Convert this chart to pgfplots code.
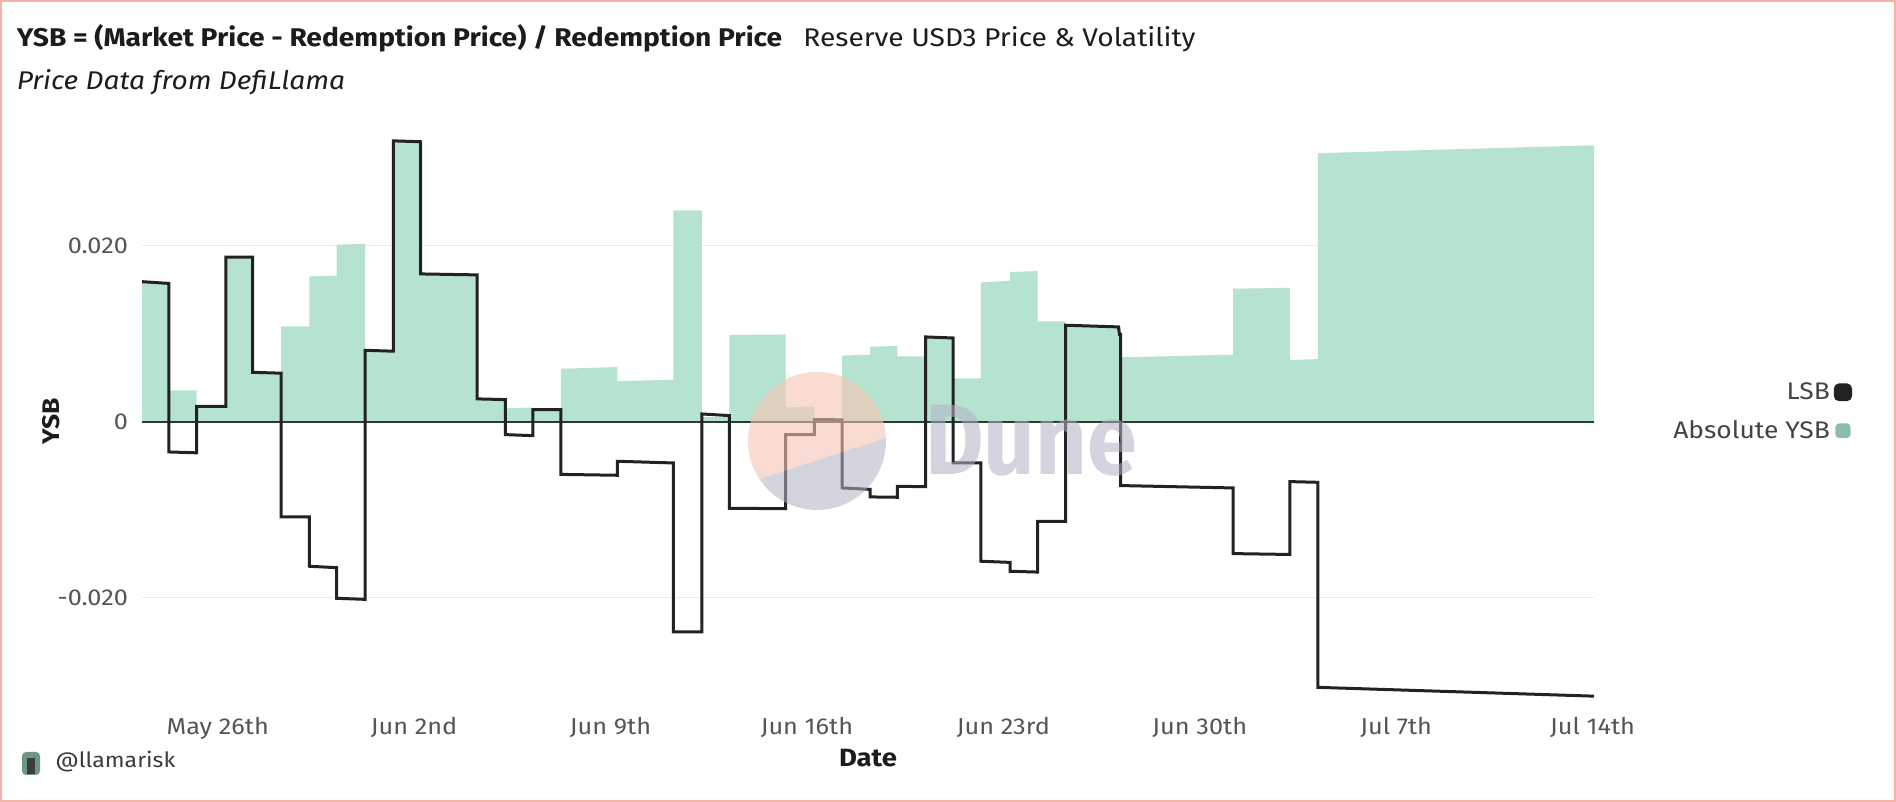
\documentclass[border=0pt]{standalone}
\usepackage{fontspec}
\setmainfont{Fira Sans}[FakeStretch=1.1]
\newfontfamily\dunefont{Fira Sans}[FakeStretch=0.9]
\usepackage{pgfplots}
\pgfplotsset{compat=1.18}
\definecolor{areagreen}{RGB}{182,226,208}
\definecolor{leggreen}{RGB}{138,190,168}
\definecolor{lsbcol}{RGB}{34,34,34}
\definecolor{zerocol}{RGB}{40,60,52}
\definecolor{gridgray}{RGB}{236,236,236}
\definecolor{tickgray}{RGB}{85,85,85}
\definecolor{titlecol}{RGB}{28,28,28}
\definecolor{bordercol}{RGB}{245,180,165}
\definecolor{wmsalmon}{RGB}{248,196,180}
\definecolor{wmgray}{RGB}{180,178,196}
\definecolor{avgreen}{RGB}{110,150,130}
\definecolor{avdark}{RGB}{60,60,60}
\begin{document}
\begin{tikzpicture}
\path[use as bounding box] (0,0) rectangle (948pt,401pt);
\fill[white] (0,0) rectangle (948pt,401pt);
\node[anchor=base west, inner sep=0pt, text=titlecol, font=\fontsize{12.8}{15}\selectfont\bfseries] at (8.2pt,377.6pt) {YSB = (Market Price - Redemption Price) / Redemption Price};
\node[anchor=base west, inner sep=0pt, text=titlecol, font=\fontsize{12.8}{15}\selectfont] at (401.5pt,377.6pt) {Reserve USD3 Price \& Volatility};
\node[anchor=base west, inner sep=0pt, text=titlecol, font=\fontsize{12.8}{15}\selectfont\itshape] at (8.2pt,356.3pt) {Price Data from DefiLlama};
\begin{axis}[
  at={(71pt,45pt)}, anchor=south west, scale only axis,
  width=726pt, height=292.6pt,
  xmin=-2.70, xmax=49.05, ymin=-0.033, ymax=0.0335,
  axis line style={draw=none}, major tick length=0pt,
  scaled y ticks=false,
  ymajorgrids, major grid style={color=gridgray, line width=0.7pt},
  xtick={0,7,14,21,28,35,42,49},
  xticklabels={May 26th,Jun 2nd,Jun 9th,Jun 16th,Jun 23rd,Jun 30th,Jul 7th,Jul 14th},
  ytick={-0.02,0,0.02}, yticklabels={-0.020,0,0.020},
  ticklabel style={font=\fontsize{11.5}{13}\selectfont, text=tickgray},
  yticklabel style={xshift=-3.5pt},
  xticklabel style={yshift=1pt},
  /pgf/number format/assume math mode=true,
  clip=false,
  legend plot pos=right, reverse legend, legend cell align=right,
  legend style={at={(1.178,0.513)}, anchor=east, draw=none, fill=none,
    font=\fontsize{12}{14}\selectfont, text=tickgray!80!black, row sep=5pt, inner sep=0pt},
]
\addplot[fill=areagreen, draw=none, sharp plot,
  legend image code/.code={\fill[leggreen, rounded corners=2pt] (0pt,-3.7pt) rectangle (7.6pt,3.7pt);}]
coordinates {
(-2.70,0) (-2.70,0.0159) (-1.74,0.0157)
(-1.74,0.00356) (-0.75,0.00356)
(-0.75,0.00174) (0.285,0.00174)
(0.285,0.0187) (1.247,0.0187)
(1.247,0.0056) (2.256,0.0055)
(2.256,0.01083) (3.264,0.01083)
(3.264,0.0165) (4.24,0.0166)
(4.24,0.0201) (5.25,0.0202)
(5.25,0.0081) (6.26,0.0080)
(6.26,0.0319) (7.23,0.0318)
(7.23,0.01678) (9.24,0.01667)
(9.24,0.00258) (10.25,0.0025)
(10.25,0.0015) (11.23,0.0016)
(11.23,0.0012) (12.23,0.0012)
(12.23,0.0060) (14.24,0.0062)
(14.24,0.0046) (16.24,0.00475)
(16.24,0.0240) (17.25,0.0240)
(17.25,0.0005) (18.23,0.0005)
(18.23,0.00985) (20.24,0.0099)
(20.24,0.0016) (21.26,0.0017)
(21.26,0.0002) (22.25,0.0002)
(22.25,0.0075) (23.25,0.0076)
(23.25,0.0085) (24.22,0.0086)
(24.22,0.0074) (25.23,0.0074)
(25.23,0.0096) (26.21,0.0096)
(26.21,0.0049) (27.2,0.0049)
(27.2,0.0158) (28.24,0.0160)
(28.24,0.0170) (29.22,0.0171)
(29.22,0.0114) (30.22,0.0114)
(30.22,0.0109) (32.18,0.0108)
(32.18,0.0073) (36.19,0.0076)
(36.19,0.0151) (38.21,0.0152)
(38.21,0.0070) (39.21,0.0071)
(39.21,0.0305) (49.05,0.0314) (49.05,0)
} \closedcycle;
\addlegendentry{Absolute YSB}
\draw[zerocol, line width=1pt] (axis cs:-2.70,0) -- (axis cs:49.05,0);
\addplot[lsbcol, line width=1.5pt, sharp plot, line join=miter,
  legend image code/.code={\fill[lsbcol, rounded corners=2pt] (0pt,-3.7pt) rectangle (7.6pt,3.7pt);}]
coordinates {
(-2.70,0.0159) (-1.74,0.0157)
(-1.74,-0.00345) (-0.75,-0.00355)
(-0.75,0.00174) (0.285,0.00174)
(0.285,0.0187) (1.247,0.0187)
(1.247,0.0056) (2.256,0.0055)
(2.256,-0.01083) (3.264,-0.01083)
(3.264,-0.01644) (4.24,-0.0166)
(4.24,-0.02008) (5.25,-0.0202)
(5.25,0.0081) (6.26,0.0080)
(6.26,0.0319) (7.23,0.0318)
(7.23,0.01678) (9.24,0.01667)
(9.24,0.00258) (10.25,0.0025)
(10.25,-0.00148) (11.23,-0.0016)
(11.23,0.00136) (12.23,0.00136)
(12.23,-0.0060) (14.24,-0.0061)
(14.24,-0.00451) (16.24,-0.0047)
(16.24,-0.0239) (17.25,-0.0239)
(17.25,0.00087) (18.23,0.00068)
(18.23,-0.00985) (20.24,-0.0099)
(20.24,-0.00148) (21.26,-0.00148)
(21.26,0.00023) (22.25,0.0002)
(22.25,-0.00754) (23.25,-0.0077)
(23.25,-0.00856) (24.22,-0.0086)
(24.22,-0.00735) (25.23,-0.0074)
(25.23,0.00962) (26.21,0.0095)
(26.21,-0.0047) (27.2,-0.0047)
(27.2,-0.01587) (28.24,-0.0160)
(28.24,-0.01701) (29.22,-0.0171)
(29.22,-0.01133) (30.22,-0.01133)
(30.22,0.01095) (32.10,0.01076) (32.14,0.0099) (32.18,0.0099)
(32.18,-0.00727) (36.19,-0.00754)
(36.19,-0.0150) (38.21,-0.0151)
(38.21,-0.00682) (39.21,-0.0069)
(39.21,-0.0302) (49.05,-0.0312)
};
\addlegendentry{LSB}
\node[anchor=base, inner sep=0pt, font=\fontsize{12.5}{14}\selectfont\bfseries, text=titlecol] at (rel axis cs:0.5,0) [yshift=-27.5pt] {Date};
\end{axis}
\node[rotate=90, inner sep=0pt, font=\fontsize{12}{14}\selectfont\bfseries, text=titlecol] at (25.4pt,190.2pt) {YSB};
% Dune watermark
\begin{scope}
\clip (408.5pt,180.5pt) circle (34.5pt);
\fill[wmsalmon, opacity=0.6] (370pt,158.3pt) -- (447pt,183.3pt) -- (447pt,220pt) -- (370pt,220pt) -- cycle;
\fill[wmgray, opacity=0.55] (370pt,158.3pt) -- (447pt,183.3pt) -- (447pt,140pt) -- (370pt,140pt) -- cycle;
\end{scope}
\node[text=wmgray, opacity=0.55, inner sep=0pt, font=\dunefont\fontsize{50}{55}\selectfont\bfseries] at (515.5pt,180.5pt) {Dune};
% footer
\fill[avgreen, rounded corners=2pt] (11pt,13.5pt) rectangle (20pt,25pt);
\fill[avdark] (13.5pt,14pt) rectangle (17.5pt,22pt);
\node[anchor=base west, inner sep=0pt, text=tickgray!70!black, font=\fontsize{10.5}{12}\selectfont] at (27.5pt,17pt) {@llamarisk};
\draw[bordercol, line width=1pt] (0.5pt,0.5pt) rectangle (947.5pt,400.5pt);
\end{tikzpicture}
\end{document}
